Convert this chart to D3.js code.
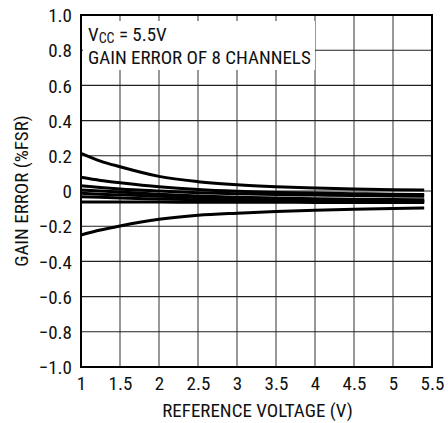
<!DOCTYPE html>
<html>
<head>
<meta charset="utf-8">
<script src="https://cdn.jsdelivr.net/npm/d3@7/dist/d3.min.js"></script>
<style>
  html, body { margin: 0; padding: 0; background: #fff; }
  svg text { font-family: "Liberation Sans Narrow", "Arial Narrow", "Roboto Condensed", "Liberation Sans", sans-serif; fill: #111; }
</style>
</head>
<body>
<svg id="chart" width="448" height="423"></svg>
<script>
// Data
const refVoltage = [1, 1.25, 1.5, 2, 2.5, 3, 3.5, 4, 4.5, 5, 5.4];
const ch1 = [0.214, 0.170, 0.138, 0.083, 0.053, 0.035, 0.024, 0.017, 0.011, 0.007, 0.005];
const ch2 = [0.078, 0.060, 0.047, 0.024, 0.008, -0.002, -0.008, -0.012, -0.015, -0.018, -0.020];
const ch3 = [0.030, 0.020, 0.012, 0.000, -0.010, -0.016, -0.020, -0.023, -0.026, -0.028, -0.030];
const ch4 = [0.006, 0.000, -0.006, -0.018, -0.028, -0.035, -0.040, -0.044, -0.047, -0.049, -0.050];
const ch5 = [-0.013, -0.018, -0.022, -0.030, -0.037, -0.043, -0.047, -0.050, -0.052, -0.054, -0.055];
const ch6 = [-0.032, -0.036, -0.040, -0.045, -0.050, -0.053, -0.056, -0.058, -0.059, -0.060, -0.060];
const ch7 = [-0.062, -0.062, -0.063, -0.063, -0.064, -0.064, -0.064, -0.065, -0.065, -0.065, -0.065];
const ch8 = [-0.250, -0.222, -0.199, -0.161, -0.138, -0.126, -0.117, -0.110, -0.104, -0.099, -0.096];
const channels = [ch1, ch2, ch3, ch4, ch5, ch6, ch7, ch8];

const xTicks = [1, 1.5, 2, 2.5, 3, 3.5, 4, 4.5, 5, 5.5];
const xTickLabels = ["1", "1.5", "2", "2.5", "3", "3.5", "4", "4.5", "5", "5.5"];
const yTicks = [1.0, 0.8, 0.6, 0.4, 0.2, 0, -0.2, -0.4, -0.6, -0.8, -1.0];
const yTickLabels = ["1.0", "0.8", "0.6", "0.4", "0.2", "0", "\u22120.2", "\u22120.4", "\u22120.6", "\u22120.8", "\u22121.0"];

const xTitle = "REFERENCE VOLTAGE (V)";
const yTitle = "GAIN ERROR (%FSR)";

const svg = d3.select("#chart");
const L = 81, R = 432, T = 15, B = 367;
const FS = 19;
const x = d3.scaleLinear().domain([1, 5.5]).range([L, R]);
const y = d3.scaleLinear().domain([-1, 1]).range([B, T]);

// grid
const grid = svg.append("g");
grid.selectAll(".vg").data(xTicks.slice(1, -1)).join("line")
  .attr("x1", d => x(d)).attr("x2", d => x(d))
  .attr("y1", T).attr("y2", B)
  .attr("stroke", "#444").attr("stroke-width", 1.1);
grid.selectAll(".hg").data(yTicks.slice(1, -1)).join("line")
  .attr("x1", L).attr("x2", R)
  .attr("y1", d => y(d)).attr("y2", d => y(d))
  .attr("stroke", "#222").attr("stroke-width", 1.1);

// annotation box
svg.append("rect").attr("x", L + 2).attr("y", 21).attr("width", 232).attr("height", 49).attr("fill", "#fff");
const t1 = svg.append("text").attr("x", 88).attr("y", 41).attr("font-size", FS);
t1.append("tspan").text("V");
t1.append("tspan").attr("font-size", 14).attr("dy", 2).text("CC");
t1.append("tspan").attr("dy", -2).text(" = 5.5V");
svg.append("text").attr("x", 88).attr("y", 64).attr("font-size", FS).text("GAIN ERROR OF 8 CHANNELS");

// curves
const line = d3.line().x((d, i) => x(refVoltage[i])).y(d => y(d)).curve(d3.curveMonotoneX);
svg.append("g").selectAll("path").data(channels).join("path")
  .attr("d", d => line(d))
  .attr("fill", "none").attr("stroke", "#000").attr("stroke-width", 3);

// frame
svg.append("rect").attr("x", L).attr("y", T).attr("width", R - L).attr("height", B - T)
  .attr("fill", "none").attr("stroke", "#000").attr("stroke-width", 2);

// axes labels
const xAxis = d3.axisBottom(x).tickValues(xTicks).tickSize(0).tickFormat((d, i) => xTickLabels[i]);
const gx = svg.append("g").attr("transform", `translate(0,${B})`).call(xAxis);
gx.select(".domain").remove();
gx.selectAll("text").attr("font-size", FS).attr("dy", null).attr("y", 23);

const yAxis = d3.axisLeft(y).tickValues(yTicks).tickSize(0).tickFormat((d, i) => yTickLabels[i]);
const gy = svg.append("g").attr("transform", `translate(${L},0)`).call(yAxis);
gy.select(".domain").remove();
gy.selectAll("text").attr("font-size", FS).attr("x", -9).attr("dy", "0.35em");

svg.append("text").attr("x", (L + R) / 2 + 1).attr("y", 417).attr("text-anchor", "middle")
  .attr("font-size", FS).text(xTitle);
svg.append("text").attr("transform", `translate(28,${(T + B) / 2}) rotate(-90)`)
  .attr("text-anchor", "middle").attr("font-size", FS).text(yTitle);
</script>
</body>
</html>
